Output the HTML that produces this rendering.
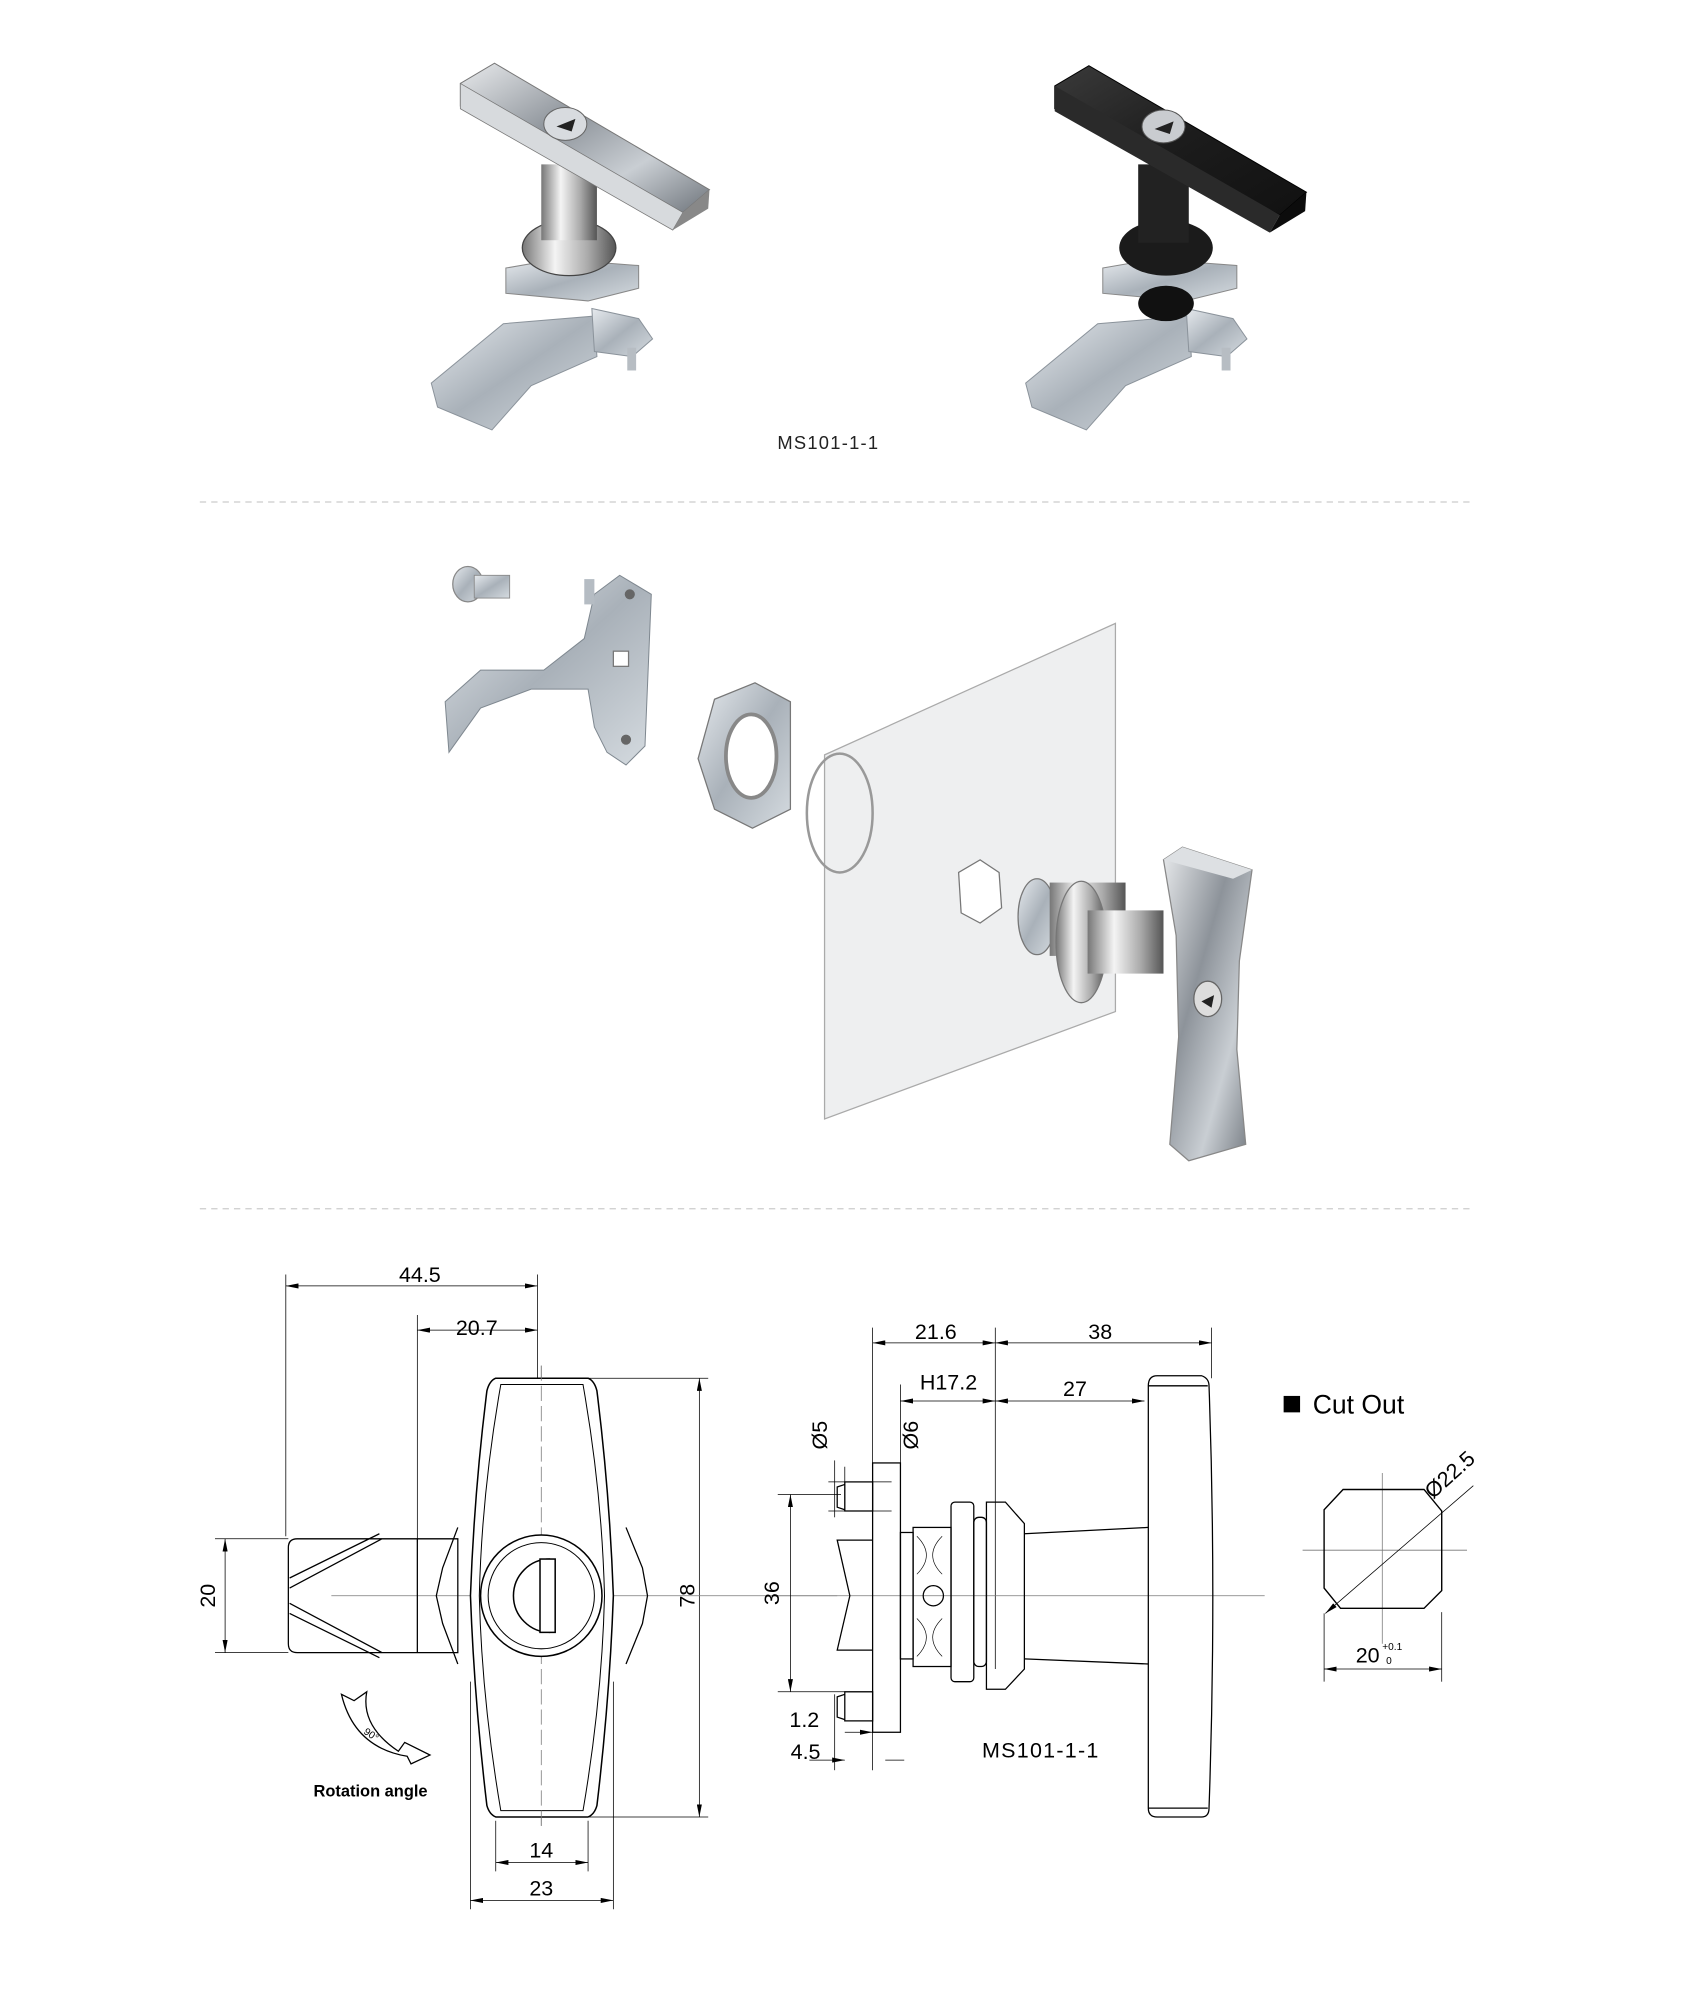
<!DOCTYPE html>
<html><head><meta charset="utf-8"><style>
html,body{margin:0;padding:0;background:#fff;}
svg{display:block;}
text{font-family:"Liberation Sans",sans-serif;}
</style></head><body>
<svg width="1682" height="1994" viewBox="0 0 1330 1577" preserveAspectRatio="none" xmlns="http://www.w3.org/2000/svg">
<defs>
<linearGradient id="chrome" x1="0" y1="0" x2="1" y2="1">
<stop offset="0" stop-color="#e8eaec"/><stop offset="0.4" stop-color="#8d939a"/><stop offset="0.7" stop-color="#c9ced3"/><stop offset="1" stop-color="#6f757c"/></linearGradient>
<linearGradient id="cyl" x1="0" y1="0" x2="1" y2="0">
<stop offset="0" stop-color="#777"/><stop offset="0.35" stop-color="#f4f4f4"/><stop offset="0.7" stop-color="#aaa"/><stop offset="1" stop-color="#555"/></linearGradient>
<linearGradient id="blk" x1="0" y1="0" x2="1" y2="1">
<stop offset="0" stop-color="#3a3a3a"/><stop offset="0.5" stop-color="#1c1c1c"/><stop offset="1" stop-color="#111"/></linearGradient>
<linearGradient id="zinc" x1="0" y1="0" x2="1" y2="1">
<stop offset="0" stop-color="#e6eaee"/><stop offset="0.5" stop-color="#a9b1b9"/><stop offset="1" stop-color="#d5dbe0"/></linearGradient>
<marker id="ar" viewBox="0 0 10 4" refX="10" refY="2" markerWidth="10" markerHeight="4" orient="auto-start-reverse" markerUnits="userSpaceOnUse"><path d="M0,0 L10,2 L0,4 z" fill="#000"/></marker>
</defs>

<!-- Top photos: chrome -->
<g>
<polygon points="341,303 398,256 470,250 472,282 420,305 389,340 346,322" fill="url(#zinc)" stroke="#8b939b" stroke-width="0.8"/>
<polygon points="468,244 505,252 516,268 500,282 470,278" fill="url(#zinc)" stroke="#8b939b" stroke-width="0.8"/>
<rect x="496" y="275" width="7" height="18" fill="#b7bdc3"/>
<polygon points="400,212 440,205 505,210 505,228 465,238 400,232" fill="url(#zinc)" stroke="#888" stroke-width="0.8"/>
<ellipse cx="450" cy="196" rx="37" ry="22" fill="url(#cyl)" stroke="#444" stroke-width="1"/>
<rect x="428" y="130" width="44" height="60" fill="url(#cyl)"/>
<polygon points="364,66 391,50 561,150 540,168 364,84" fill="url(#chrome)" stroke="#777" stroke-width="0.8"/>
<polygon points="364,66 540,168 532,182 364,86" fill="#d7dadd" stroke="#777" stroke-width="0.6"/>
<polygon points="540,168 561,150 560,165 532,182" fill="#888"/>
<ellipse cx="447" cy="98" rx="17" ry="13" fill="#d8dbdf" stroke="#666" stroke-width="0.8"/>
<polygon points="440,100 455,94 452,104" fill="#222"/>
</g>
<!-- black -->
<g>
<polygon points="811,303 868,256 940,250 942,282 890,305 859,340 816,322" fill="url(#zinc)" stroke="#8b939b" stroke-width="0.8"/>
<polygon points="938,244 975,252 986,268 970,282 940,278" fill="url(#zinc)" stroke="#8b939b" stroke-width="0.8"/>
<rect x="966" y="275" width="7" height="18" fill="#b7bdc3"/>
<polygon points="872,212 912,205 978,210 978,228 937,238 872,232" fill="url(#zinc)" stroke="#888" stroke-width="0.8"/>
<ellipse cx="922" cy="196" rx="37" ry="22" fill="#1b1b1b"/>
<ellipse cx="922" cy="240" rx="22" ry="14" fill="#111"/>
<rect x="900" y="130" width="40" height="62" fill="#222"/>
<polygon points="834,68 861,52 1033,152 1012,170 834,86" fill="url(#blk)" stroke="#000" stroke-width="0.8"/>
<polygon points="834,68 1012,170 1004,184 834,88" fill="#2a2a2a"/>
<polygon points="1012,170 1033,152 1032,167 1004,184" fill="#0c0c0c"/>
<ellipse cx="920" cy="100" rx="17" ry="13" fill="#c9ccd0" stroke="#555" stroke-width="0.8"/>
<polygon points="913,102 928,96 925,106" fill="#222"/>
</g>
<text x="655" y="355" font-size="14.5" text-anchor="middle" letter-spacing="1" fill="#222">MS101-1-1</text>

<line x1="158" y1="397" x2="1165" y2="397" stroke="#ccc" stroke-dasharray="5,4"/>
<line x1="158" y1="956" x2="1165" y2="956" stroke="#ccc" stroke-dasharray="5,4"/>

<!-- Exploded view -->
<g>
<ellipse cx="370" cy="462" rx="12" ry="14" fill="url(#zinc)" stroke="#888"/>
<rect x="375" y="455" width="28" height="18" fill="url(#zinc)" stroke="#888" stroke-width="0.7"/>
<polygon points="470,470 490,455 515,470 510,590 495,605 480,595 470,575 465,545 420,545 380,560 355,595 352,555 380,530 430,530 462,505" fill="url(#zinc)" stroke="#7f8890" stroke-width="0.8"/>
<rect x="485" y="515" width="12" height="12" fill="#fff" stroke="#777"/>
<circle cx="498" cy="470" r="4" fill="#666"/><circle cx="495" cy="585" r="4" fill="#666"/>
<rect x="462" y="458" width="8" height="20" fill="#b5bcc3"/>
<polygon points="565,553 597,540 625,555 625,640 595,655 565,640 552,600" fill="url(#zinc)" stroke="#777"/>
<ellipse cx="594" cy="598" rx="20" ry="33" fill="#fff" stroke="#888" stroke-width="3"/>
<polygon points="652,597 882,493 882,800 652,885" fill="#eeeff0" stroke="#aaa" stroke-width="1"/>
<ellipse cx="664" cy="643" rx="26" ry="47" fill="none" stroke="#999" stroke-width="2"/>
<polygon points="758,690 775,680 790,690 792,718 775,730 760,722" fill="#fff" stroke="#777"/>
<ellipse cx="820" cy="725" rx="15" ry="30" fill="url(#zinc)" stroke="#777"/>
<rect x="830" y="698" width="60" height="58" fill="url(#cyl)"/>
<ellipse cx="855" cy="745" rx="20" ry="48" fill="url(#cyl)" stroke="#777"/>
<rect x="860" y="720" width="60" height="50" fill="url(#cyl)"/>
<polygon points="920,680 935,670 990,688 980,760 978,830 985,905 940,918 925,905 932,820 930,740" fill="url(#chrome)" stroke="#888"/>
<polygon points="920,680 935,670 990,688 975,695" fill="#dde0e3"/>
<ellipse cx="955" cy="790" rx="11" ry="14" fill="#ddd" stroke="#666"/>
<polygon points="950,792 960,787 958,797" fill="#222"/>
</g>

<!-- Drawing left -->
<g stroke="#000" stroke-width="0.6" fill="none">
<line x1="226" y1="1008" x2="226" y2="1215"/>
<line x1="425" y1="1008" x2="425" y2="1100"/>
<line x1="330" y1="1040" x2="330" y2="1220"/>
<line x1="226" y1="1017" x2="425" y2="1017" marker-start="url(#ar)" marker-end="url(#ar)"/>
<line x1="330" y1="1052" x2="425" y2="1052" marker-start="url(#ar)" marker-end="url(#ar)"/>
<line x1="465" y1="1090" x2="560" y2="1090"/>
<line x1="465" y1="1437" x2="560" y2="1437"/>
<line x1="553" y1="1090" x2="553" y2="1437" marker-start="url(#ar)" marker-end="url(#ar)"/>
<line x1="170" y1="1217" x2="228" y2="1217"/>
<line x1="170" y1="1307" x2="228" y2="1307"/>
<line x1="178" y1="1217" x2="178" y2="1307" marker-start="url(#ar)" marker-end="url(#ar)"/>
<line x1="392" y1="1440" x2="392" y2="1480"/>
<line x1="465" y1="1440" x2="465" y2="1480"/>
<line x1="372" y1="1330" x2="372" y2="1510"/>
<line x1="485" y1="1330" x2="485" y2="1510"/>
<line x1="392" y1="1473" x2="465" y2="1473" marker-start="url(#ar)" marker-end="url(#ar)"/>
<line x1="372" y1="1503" x2="485" y2="1503" marker-start="url(#ar)" marker-end="url(#ar)"/>
<line x1="262" y1="1262" x2="662" y2="1262" stroke="#777"/>
<line x1="428" y1="1080" x2="428" y2="1445" stroke="#777" stroke-dasharray="12,4"/>
<path d="M228,1224 Q228,1217 235,1217 L362,1217 L362,1307 L235,1307 Q228,1307 228,1300 Z" stroke-width="1"/>
<line x1="330" y1="1217" x2="330" y2="1307" stroke-width="1"/>
<path d="M229,1248 L300,1213 M229,1256 L302,1217 M229,1276 L300,1311 M229,1268 L302,1307" stroke-width="1"/>
<path d="M362,1208 L350,1240 L345,1262 L350,1284 L362,1316 M495,1208 L508,1240 L512,1262 L508,1284 L495,1316" stroke-width="1"/>
<path d="M392,1090 L465,1090 Q470,1092 472,1100 Q482,1180 485,1262 Q482,1344 472,1428 Q470,1435 465,1437 L392,1437 Q387,1435 385,1428 Q375,1344 372,1262 Q375,1180 385,1100 Q387,1092 392,1090 Z" stroke-width="1.2" fill="#fff"/>
<path d="M396,1095 L461,1095 Q476,1180 478,1262 Q476,1344 461,1432 L396,1432 Q381,1344 379,1262 Q381,1180 396,1095 Z" stroke-width="0.8"/>
<line x1="428" y1="1080" x2="428" y2="1445" stroke="#777" stroke-dasharray="12,4"/>
<circle cx="428" cy="1262" r="48" stroke-width="1.2" fill="#fff"/>
<circle cx="428" cy="1262" r="42" stroke-width="0.8"/>
<path d="M435,1233 L435,1291 M435,1233 A29,29 0 0 0 435,1291" stroke-width="1.2"/>
<rect x="427" y="1233" width="12" height="58" stroke-width="1.2" fill="#fff"/>
<path d="M290,1338 Q285,1365 315,1385 L320,1378 L340,1388 L325,1395 L322,1389 Q280,1382 270,1340 L280,1345 Z" stroke-width="1"/>
</g>
<g font-size="17" fill="#000" text-anchor="middle">
<text x="332" y="1014">44.5</text>
<text x="377" y="1056">20.7</text>
<text x="428" y="1469">14</text>
<text x="428" y="1499">23</text>
<text transform="translate(549,1262) rotate(-90)">78</text>
<text transform="translate(170,1262) rotate(-90)">20</text>
<text transform="translate(292,1374) rotate(35)" font-size="8">90°</text>
<text x="293" y="1421" font-size="13" font-weight="bold">Rotation angle</text>
</g>

<!-- Drawing middle -->
<g stroke="#000" stroke-width="0.6" fill="none">
<line x1="690" y1="1050" x2="690" y2="1400"/>
<line x1="787" y1="1050" x2="787" y2="1320"/>
<line x1="958" y1="1050" x2="958" y2="1090"/>
<line x1="712" y1="1095" x2="712" y2="1160"/>
<line x1="690" y1="1062" x2="787" y2="1062" marker-start="url(#ar)" marker-end="url(#ar)"/>
<line x1="787" y1="1062" x2="958" y2="1062" marker-start="url(#ar)" marker-end="url(#ar)"/>
<line x1="712" y1="1108" x2="787" y2="1108" marker-start="url(#ar)" marker-end="url(#ar)"/>
<line x1="787" y1="1108" x2="905" y2="1108" marker-start="url(#ar)" marker-end="url(#ar)"/>
<line x1="612" y1="1262" x2="1000" y2="1262" stroke="#777"/>
<line x1="615" y1="1182" x2="665" y2="1182"/>
<line x1="615" y1="1338" x2="690" y2="1338"/>
<line x1="625" y1="1182" x2="625" y2="1338" marker-start="url(#ar)" marker-end="url(#ar)"/>
<line x1="660" y1="1155" x2="660" y2="1200"/><line x1="655" y1="1172" x2="705" y2="1172"/><line x1="655" y1="1195" x2="705" y2="1195"/>
<line x1="668" y1="1160" x2="668" y2="1195"/>
<line x1="660" y1="1340" x2="660" y2="1400"/>
<line x1="668" y1="1370" x2="690" y2="1370" marker-end="url(#ar)"/>
<line x1="640" y1="1392" x2="668" y2="1392" marker-end="url(#ar)"/>
<line x1="700" y1="1392" x2="715" y2="1392"/>
<g stroke-width="1">
<rect x="690" y="1157" width="22" height="213"/>
<rect x="668" y="1172" width="22" height="23"/>
<rect x="668" y="1338" width="22" height="23"/>
<path d="M668,1174 L662,1176 L662,1192 L668,1194 M668,1340 L662,1342 L662,1358 L668,1360"/>
<path d="M690,1218 L662,1218 L672,1262 L662,1305 L690,1305"/>
<rect x="712" y="1212" width="10" height="100"/>
<rect x="722" y="1208" width="30" height="110"/>
<path d="M725,1215 Q740,1230 725,1245 M745,1215 Q730,1230 745,1245 M725,1280 Q740,1295 725,1310 M745,1280 Q730,1295 745,1310" stroke-width="0.5"/>
<circle cx="738" cy="1262" r="8"/>
<rect x="752" y="1188" width="18" height="142" rx="3"/>
<rect x="770" y="1200" width="10" height="118" rx="4"/>
<path d="M780,1188 L795,1188 L810,1205 L810,1320 L795,1336 L780,1336 Z"/>
<path d="M810,1213 L908,1208 M810,1312 L908,1316"/>
<path d="M915,1088 L950,1088 Q956,1090 956,1096 Q962,1262 956,1430 Q956,1437 950,1437 L915,1437 Q908,1437 908,1430 L908,1096 Q908,1088 915,1088 Z"/>
<line x1="908" y1="1096" x2="955" y2="1096"/><line x1="908" y1="1430" x2="955" y2="1430"/>
</g>
</g>
<g font-size="17" fill="#000" text-anchor="middle">
<text x="740" y="1059">21.6</text>
<text x="870" y="1059">38</text>
<text x="750" y="1099">H17.2</text>
<text x="850" y="1104">27</text>
<text transform="translate(616,1260) rotate(-90)">36</text>
<text transform="translate(654,1135) rotate(-90)">Ø5</text>
<text transform="translate(726,1135) rotate(-90)">Ø6</text>
<text x="636" y="1366">1.2</text>
<text x="637" y="1391">4.5</text>
<text x="823" y="1390" letter-spacing="1">MS101-1-1</text>
</g>

<!-- Cut out -->
<rect x="1015" y="1104" width="13" height="13" fill="#000"/>
<text x="1038" y="1118" font-size="21" fill="#000">Cut Out</text>
<g stroke="#000" stroke-width="0.6" fill="none">
<line x1="1093" y1="1165" x2="1093" y2="1300" stroke="#777"/>
<line x1="1030" y1="1226" x2="1160" y2="1226" stroke="#777"/>
<path d="M1062,1178 L1126,1178 L1140,1195 L1140,1258 L1126,1272 L1060,1272 L1047,1256 L1047,1194 Z" stroke-width="1.1"/>
<line x1="1048" y1="1276" x2="1165" y2="1175" marker-start="url(#ar)"/>
<line x1="1047" y1="1276" x2="1047" y2="1330"/>
<line x1="1140" y1="1275" x2="1140" y2="1330"/>
<line x1="1047" y1="1320" x2="1140" y2="1320" marker-start="url(#ar)" marker-end="url(#ar)"/>
</g>
<text transform="translate(1133,1186) rotate(-42)" font-size="17" fill="#000">Ø22.5</text>
<text x="1072" y="1315" font-size="17" fill="#000">20</text>
<text x="1093" y="1305" font-size="8" fill="#000">+0.1</text>
<text x="1096" y="1316" font-size="8" fill="#000">0</text>
</svg>
</body></html>
